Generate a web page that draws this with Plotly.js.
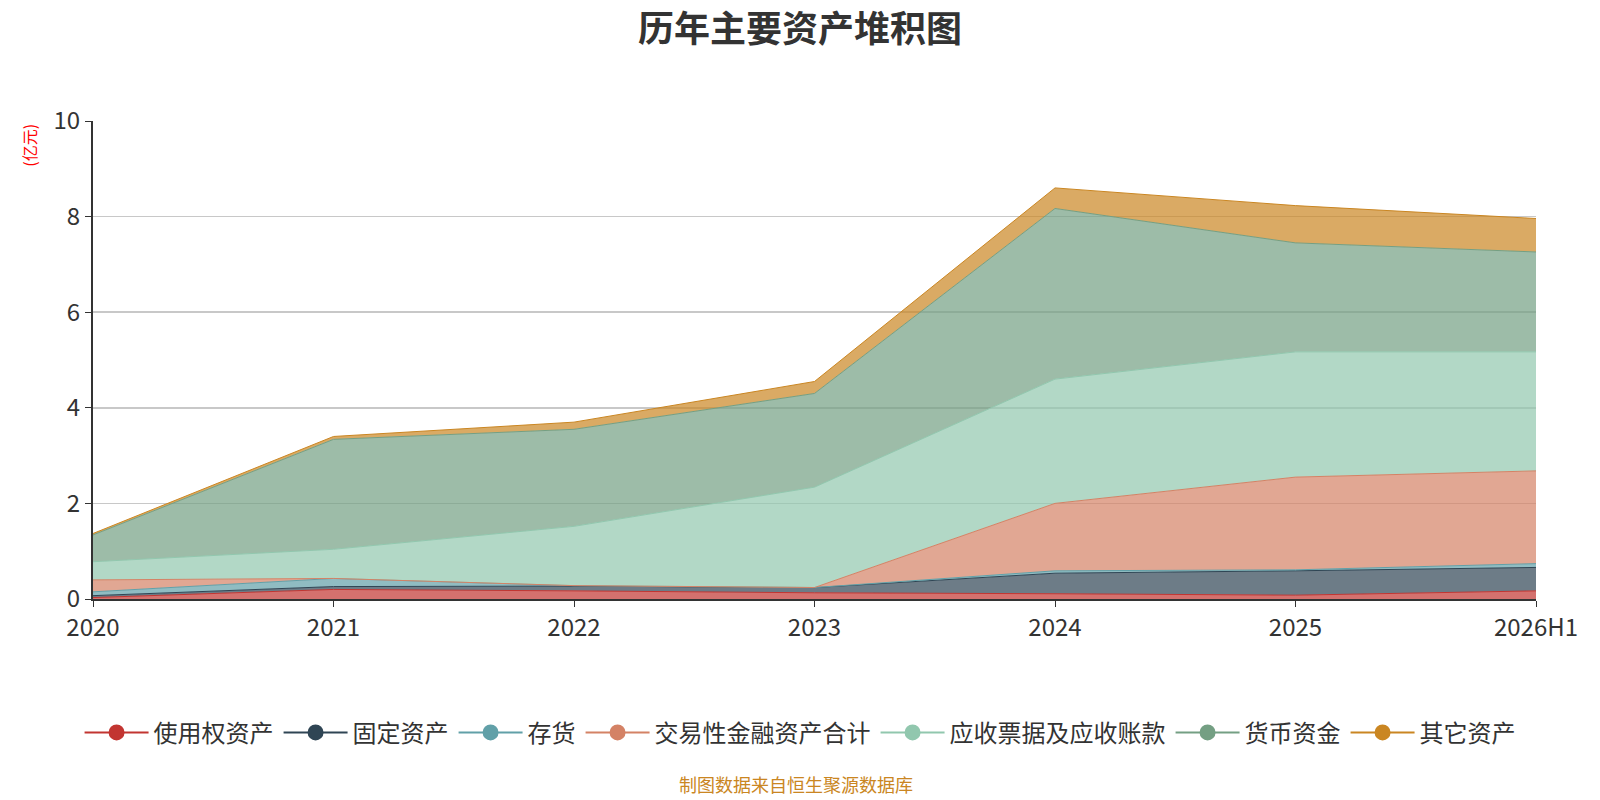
<!DOCTYPE html>
<html>
<head>
<meta charset="utf-8">
<script src="https://cdn.plot.ly/plotly-3.0.1.min.js"></script>
<style>
  body { margin: 0; background: #fff; }
  #chart { width: 1600px; height: 800px; }
</style>
</head>
<body>
<div id="chart"></div>
<script>
// 年份
const years = ['2020', '2021', '2022', '2023', '2024', '2025', '2026H1'];

// 各项资产 (亿元), 从下往上堆积
const rightOfUse = [0.03, 0.20, 0.17, 0.13, 0.11, 0.08, 0.17];
const fixedAssets = [0.04, 0.06, 0.10, 0.11, 0.43, 0.51, 0.49];
const inventory = [0.08, 0.17, 0.01, 0.00, 0.05, 0.02, 0.08];
const tradingAssets = [0.25, 0.00, 0.00, 0.00, 1.41, 1.94, 1.94];
const receivables = [0.38, 0.61, 1.24, 2.10, 2.60, 2.62, 2.49];
const cash = [0.56, 2.30, 2.03, 1.96, 3.57, 2.28, 2.09];
const otherAssets = [0.03, 0.06, 0.15, 0.25, 0.43, 0.78, 0.70];

const seriesNames = ['使用权资产', '固定资产', '存货', '交易性金融资产合计', '应收票据及应收账款', '货币资金', '其它资产'];
const seriesValues = [rightOfUse, fixedAssets, inventory, tradingAssets, receivables, cash, otherAssets];
const colors = ['#c23531', '#2f4554', '#61a0a8', '#d48265', '#91c7ae', '#749f83', '#ca8622'];

const font = '"Noto Sans CJK SC", "Noto Sans", sans-serif';

hexToRgba = (hex, a) => {
    let r = parseInt(hex.slice(1, 3), 16);
    let g = parseInt(hex.slice(3, 5), 16);
    let b = parseInt(hex.slice(5, 7), 16);
    return 'rgba(' + r + ',' + g + ',' + b + ',' + a + ')';
}

const traces = [];
seriesNames.forEach((name, i) => {
    traces.push({
        x: years,
        y: seriesValues[i],
        type: 'scatter',
        mode: 'lines',
        stackgroup: 'one',
        name: name,
        line: { color: colors[i], width: 1 },
        fillcolor: hexToRgba(colors[i], 0.7),
        showlegend: false,
        hoverinfo: 'x+y+name'
    });
});
// 图例用的空 trace (线+圆点)
seriesNames.forEach((name, i) => {
    traces.push({
        x: [null],
        y: [null],
        type: 'scatter',
        mode: 'lines+markers',
        name: name,
        line: { color: colors[i], width: 2 },
        marker: { color: colors[i], size: 16, symbol: 'circle' },
        showlegend: true
    });
});

const layout = {
    width: 1600,
    height: 800,
    margin: { l: 93, r: 64, t: 121, b: 201 },
    paper_bgcolor: '#fff',
    plot_bgcolor: '#fff',
    font: { family: font, color: '#333' },
    title: {
        text: '<b>历年主要资产堆积图</b>',
        font: { family: font, size: 36, color: '#333' },
        x: 0.5,
        xanchor: 'center',
        y: 0.963,
        yanchor: 'middle'
    },
    xaxis: {
        type: 'category',
        range: [0, 6],
        showgrid: false,
        showline: true,
        linecolor: '#333',
        linewidth: 2,
        ticks: 'outside',
        ticklen: 6,
        tickcolor: '#333',
        tickfont: { size: 24, color: '#333' },
        zeroline: false
    },
    yaxis: {
        range: [0, 10],
        dtick: 2,
        showgrid: true,
        gridcolor: '#c8c8c8',
        gridwidth: 1.5,
        showline: true,
        linecolor: '#333',
        linewidth: 2,
        ticks: 'outside',
        ticklen: 6,
        tickcolor: '#333',
        tickfont: { size: 24, color: '#333' },
        zeroline: false
    },
    legend: {
        orientation: 'h',
        traceorder: 'normal',
        x: 0.49,
        xanchor: 'center',
        y: -0.28,
        yanchor: 'middle',
        font: { size: 24, color: '#333' },
        itemwidth: 64
    },
    annotations: [
        {
            text: '(亿元)',
            xref: 'paper', yref: 'paper',
            x: -0.0445, y: 0.95,
            xanchor: 'center', yanchor: 'middle',
            textangle: -90,
            showarrow: false,
            font: { size: 16, color: 'red' }
        },
        {
            text: '制图数据来自恒生聚源数据库',
            xref: 'paper', yref: 'paper',
            x: 0.487, y: -0.388,
            xanchor: 'center', yanchor: 'middle',
            showarrow: false,
            font: { size: 18, color: '#ca8622' }
        }
    ],
    showlegend: true
};

Plotly.newPlot('chart', traces, layout, { displayModeBar: false, staticPlot: true });
</script>
</body>
</html>
